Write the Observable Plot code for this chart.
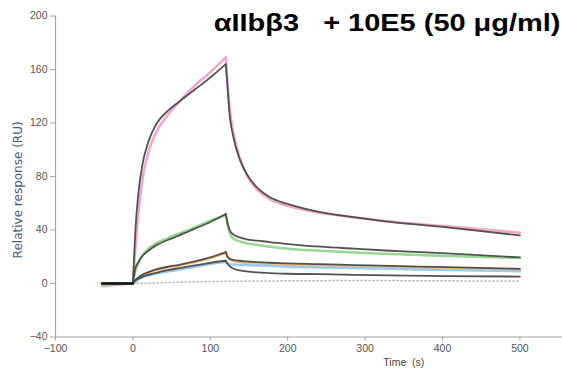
<!DOCTYPE html>
<html>
<head>
<meta charset="utf-8">
<script src="https://cdn.jsdelivr.net/npm/d3@7"></script>
<script src="https://cdn.jsdelivr.net/npm/@observablehq/plot@0.6"></script>
<style>
  html, body { margin: 0; padding: 0; background: #fff; }
  #chart { width: 562px; height: 369px; }
</style>
</head>
<body>
<div id="chart"></div>
<script>
// ---- data ----
const titleText = "\u03b1IIb\u03b23\u00a0\u00a0\u00a0+ 10E5 (50 \u03bcg/ml)";
const xLabel = "Time\u00a0 (s)";
const yLabel = "Relative response (RU)";
const xTicks = [-100, 0, 100, 200, 300, 400, 500];
const yTicks = [-40, 0, 40, 80, 120, 160, 200];

const baseT   = [-40, -20, 0];
const assocT  = [0, 3, 7, 12, 20, 30, 45, 60, 80, 100, 120];
const dissocT = [120, 122, 125, 130, 138, 147, 160, 177, 200, 242, 285, 332, 406, 500];

// measured curves
const pinkBase    = [-2, -1, 0];
const pinkAssoc   = [0, 25, 52, 77, 98, 113, 126, 136, 148, 158, 169];
const pinkDissoc  = [169, 152, 131, 112, 94, 81, 70.5, 63, 58, 52.8, 49.6, 46.3, 42.8, 38];
const greenBase   = [-1, -0.5, 0];
const greenAssoc  = [0, 9, 15, 20.5, 26, 30, 34, 37.5, 42, 47, 51];
const greenDissoc = [51, 45, 38, 33.5, 31.5, 30, 29, 27.5, 26, 24.5, 23.2, 22, 20.5, 19];
const orangeBase   = [0, 0, 0];
const orangeAssoc  = [0, 2, 4, 6, 8, 10, 12, 13.5, 16, 19, 23];
const orangeDissoc = [23, 20, 18, 17, 16, 15.5, 15, 14.5, 14, 13.5, 13, 12.5, 11.5, 10.5];
const blueBase   = [0, 0, 0];
const blueAssoc  = [0, 1.5, 3, 4.5, 6, 7.5, 9, 10.5, 12.5, 14.5, 16];
const blueDissoc = [16, 15, 14.5, 14.2, 14, 13.8, 13.5, 13.2, 12.6, 12, 11.5, 11, 10, 9.2];

// fitted curves
const fitPinkAssoc   = [0, 38, 67, 88, 106, 119, 129, 136, 145, 154, 164];
const fitPinkDissoc  = [164, 149, 126, 109, 93, 82, 72, 64.5, 59.5, 53.3, 49.6, 46, 42, 36];
const fitGreenAssoc  = [0, 11, 16, 20.5, 24.5, 28.5, 32.5, 36, 41, 46, 52];
const fitGreenDissoc = [52, 46, 40, 36.5, 34.5, 33, 32, 31, 29.5, 27.5, 26, 24.5, 22.5, 19.5];
const fitOrangeAssoc  = [0, 2.5, 4.5, 6.5, 8.5, 10.5, 12.5, 14, 16.5, 19.5, 23.5];
const fitOrangeDissoc = [23.5, 20.5, 18.5, 17.5, 17, 16.5, 16, 15.5, 15, 14.5, 13.8, 13.2, 12.2, 11];
const fitBlueAssoc  = [0, 2, 3.5, 5, 6.5, 8, 10, 11.5, 13.5, 15.5, 17];
const fitBlueDissoc = [17, 15, 13, 11, 9.8, 9, 8.3, 7.8, 7.3, 7, 6.5, 6, 5.5, 5.2];
const fitBase = [0, 0, 0];

// reference (dotted) curve
const refT = [0, 20, 50, 100, 150, 200, 300, 400, 500];
const refV = [0, 0.3, 0.8, 1.5, 1.8, 2, 2.2, 2, 1.8];

// ---- build tables ----
function segs(name, base, assoc, dissoc) {
  const rows = [];
  baseT.forEach((t, i) => rows.push({t, v: base[i], k: name + "-b"}));
  assocT.forEach((t, i) => rows.push({t, v: assoc[i], k: name + "-a"}));
  dissocT.forEach((t, i) => rows.push({t, v: dissoc[i], k: name + "-d"}));
  return rows;
}
const measured = [
  {rows: segs("pink", pinkBase, pinkAssoc, pinkDissoc), color: "#f5a5c6"},
  {rows: segs("green", greenBase, greenAssoc, greenDissoc), color: "#97d897"},
  {rows: segs("orange", orangeBase, orangeAssoc, orangeDissoc), color: "#f8bd78"},
  {rows: segs("blue", blueBase, blueAssoc, blueDissoc), color: "#9ccbef"}
];
const fits = [
  segs("fp", fitBase, fitPinkAssoc, fitPinkDissoc),
  segs("fg", fitBase, fitGreenAssoc, fitGreenDissoc),
  segs("fo", fitBase, fitOrangeAssoc, fitOrangeDissoc),
  segs("fb", fitBase, fitBlueAssoc, fitBlueDissoc)
];
const refRows = refT.map((t, i) => ({t, v: refV[i]}));

const axisColor = "#a6a6a6";
const marks = [];
marks.push(Plot.ruleX([-100], {stroke: axisColor, strokeWidth: 1.2}));
marks.push(Plot.ruleY([-40], {stroke: axisColor, strokeWidth: 1.2}));
marks.push(Plot.line(refRows, {x: "t", y: "v", stroke: "#bdbdbd", strokeWidth: 1.5, strokeDasharray: "1.5,2.5", curve: "monotone-x"}));
measured.forEach(m => marks.push(Plot.line(m.rows, {x: "t", y: "v", z: "k", stroke: m.color, strokeWidth: 2.5, curve: "monotone-x"})));
fits.forEach(f => marks.push(Plot.line(f, {x: "t", y: "v", z: "k", stroke: "#4a4a4a", strokeOpacity: 0.95, strokeWidth: 1.8, curve: "monotone-x"})));
marks.push(Plot.line(baseT.map((t, i) => ({t, v: fitBase[i]})), {x: "t", y: "v", stroke: "#111", strokeWidth: 2}));

marks.push(Plot.axisX({ticks: xTicks, tickSize: 4, tickPadding: 4, stroke: axisColor, fill: "#555", label: null}));
marks.push(Plot.axisY({ticks: yTicks, tickSize: 5, tickPadding: 3, stroke: axisColor, fill: "#555", label: null}));

marks.push(Plot.text([yLabel], {frameAnchor: "left", y: () => 70, text: d => d, rotate: -90, dx: -37, fill: "#4a5a7e", fontSize: 12, fontFamily: "'DejaVu Sans', Verdana, sans-serif", textAnchor: "middle"}));
marks.push(Plot.text([xLabel], {frameAnchor: "bottom", x: () => 350, text: d => d, dy: 25.5, fill: "#444", fontSize: 10.5, textAnchor: "middle", lineAnchor: "middle"}));
marks.push(Plot.text([titleText], {frameAnchor: "top-right", text: d => d, dx: -2, dy: 7.6, fill: "#000", fontSize: 23, fontWeight: "bold", textAnchor: "end", lineAnchor: "middle", className: "title-text"}));

const chart = Plot.plot({
  width: 562,
  height: 369,
  marginLeft: 55,
  marginRight: 0,
  marginTop: 15.5,
  marginBottom: 32.5,
  style: {fontFamily: "'Liberation Sans', Arial, sans-serif", fontSize: "10.5px", background: "#fff"},
  x: {domain: [-100, 555]},
  y: {domain: [-40, 200]},
  marks
});
document.getElementById("chart").appendChild(chart);

// stretch the title horizontally (about its right, anchored end) to match the reference's wide lettering
const titleEl = chart.querySelector(".title-text text");
if (titleEl) {
  const w = titleEl.getBBox().width;
  const s = 347 / w;
  const tr = titleEl.getAttribute("transform");
  if (tr) {
    titleEl.setAttribute("transform", `${tr} scale(${s},1)`);
  } else {
    const xr = +titleEl.getAttribute("x") || 0;
    titleEl.setAttribute("transform", `matrix(${s},0,0,1,${xr * (1 - s)},0)`);
  }
}
</script>
</body>
</html>
